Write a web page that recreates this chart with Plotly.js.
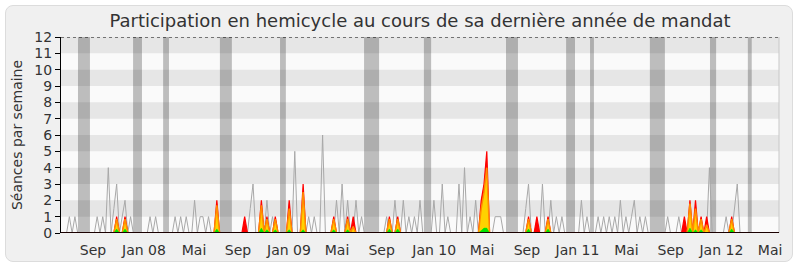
<!DOCTYPE html>
<html><head><meta charset="utf-8">
<script src="https://cdn.plot.ly/plotly-3.0.1.min.js"></script>
<style>
html,body{margin:0;padding:0;background:#ffffff;}
#panel{position:absolute;left:5px;top:5px;background:#f0f0f0;border:1px solid #dcdcdc;border-radius:8px;box-sizing:border-box;width:788px;height:257px;}
#chart{position:absolute;left:0;top:0;width:800px;height:267px;}
</style></head>
<body><div id="panel"></div><div id="chart"></div>
<script>
// Weekly values, week 0 .. 258 (June 2007 -> May 2012)
const mediane = [
0,0,0,1,0,1,0,0,0,0,
0,0,0,1,0,1,0,4,0,1.5,
3,0,1,2,0,1,0,0,0,0,
0,0,1,0,1,0,0,0,0,0,
0,1,0,1,0,1,0,0,2,0,
1,1,0,1,0,0,1,0,0,0,
0,0,0,0,0,0,0,0,1.5,3,
0,0,0,0,2,0,1,0,0,0,
0,0,0,0,5,0,0,0,0,1,
0,1,0,0,6,0,0,0,0,2,
0,3,0,2,0,0,2,0,1,0,
0,0,0,0,0,0,0,1,0,0,
2,0,0,2,0,1,0,1,0,2,
0,0,0,0,2,0,0,3,0,1,
0,0,0,3,0,4,0,1,0,2,
0,0,0,0,0,0,1,1,1,0,
0,0,0,0,0,0,0,1.5,3,0,
0,0,0,3,0,0,2,0,1,0,
1,0,0,0,0,0,0,2,0,1,
0,0,0,1,0,1,0,1,0,1,
0,2,0,1,0,1,2,0,1,0,
1,0,0,0,0,0,0,0,1,0,
0,0,1,0,0,0,0,0,0,0,
0,0,0,4,0,0,0,0,0,1,
0,0,1.5,3,0,0,0,0,0,0,
0,0,0,0,0,0,0,0,0
];
const presences = [
0,0,0,0,0,0,0,0,0,0,
0,0,0,0,0,0,0,0,0,0,
1,0,0,1,0,0,0,0,0,0,
0,0,0,0,0,0,0,0,0,0,
0,0,0,0,0,0,0,0,0,0,
0,0,0,0,0,0,2,0,0,0,
0,0,0,0,0,0,1,0,0,0,
0,0,2,0,1,0,0,1,0,0,
0,0,2,0,0,0,0,3,0,0,
0,0,0,0,0,0,0,0,1,0,
0,0,0,1,0,1,0,0,0,0,
0,0,0,0,0,0,0,0,1,0,
0,1,0,0,0,0,0,0,0,0,
0,0,0,0,0,0,0,0,0,0,
0,0,0,0,0,0,0,0,0,0,
0,2,3,5,0,0,0,0,0,0,
0,0,0,0,0,0,0,0,1,0,
0,1,0,0,0,1,0,0,0,0,
0,0,0,0,0,0,0,0,0,0,
0,0,0,0,0,0,0,0,0,0,
0,0,0,0,0,0,0,0,0,0,
0,0,0,0,0,0,0,0,0,0,
0,0,0,0,1,0,2,0,2,0,
1,0,1,0,0,0,0,0,0,0,
0,1,0,0,0,0,0,0,0,0,
0,0,0,0,0,0,0,0,0
];
const participations = [
0,0,0,0,0,0,0,0,0,0,
0,0,0,0,0,0,0,0,0,0,
0.85,0,0,0.85,0,0,0,0,0,0,
0,0,0,0,0,0,0,0,0,0,
0,0,0,0,0,0,0,0,0,0,
0,0,0,0,0,0,1.7,0,0,0,
0,0,0,0,0,0,0,0,0,0,
0,0,1.7,0,0.85,0,0,0.85,0,0,
0,0,1.5,0,0,0,0,2.5,0,0,
0,0,0,0,0,0,0,0,0.85,0,
0,0,0,0.85,0,0.4,0,0,0,0,
0,0,0,0,0,0,0,0,0.85,0,
0,0.85,0,0,0,0,0,0,0,0,
0,0,0,0,0,0,0,0,0,0,
0,0,0,0,0,0,0,0,0,0,
0,1.5,2.5,4,0,0,0,0,0,0,
0,0,0,0,0,0,0,0,0.85,0,
0,0,0,0,0,0.85,0,0,0,0,
0,0,0,0,0,0,0,0,0,0,
0,0,0,0,0,0,0,0,0,0,
0,0,0,0,0,0,0,0,0,0,
0,0,0,0,0,0,0,0,0,0,
0,0,0,0,0,0,1.8,0,1.5,0,
0.85,0,0.5,0,0,0,0,0,0,0,
0,0.85,0,0,0,0,0,0,0,0,
0,0,0,0,0,0,0,0,0
];
const interventions = [
0,0,0,0,0,0,0,0,0,0,
0,0,0,0,0,0,0,0,0,0,
0.25,0,0,0.25,0,0,0,0,0,0,
0,0,0,0,0,0,0,0,0,0,
0,0,0,0,0,0,0,0,0,0,
0,0,0,0,0,0,0.25,0,0,0,
0,0,0,0,0,0,0,0,0,0,
0,0,0.3,0,0.2,0,0,0.2,0,0,
0,0,0.2,0,0,0,0,0.2,0,0,
0,0,0,0,0,0,0,0,0.2,0,
0,0,0,0.2,0,0,0,0,0,0,
0,0,0,0,0,0,0,0,0.25,0,
0,0.25,0,0,0,0,0,0,0,0,
0,0,0,0,0,0,0,0,0,0,
0,0,0,0,0,0,0,0,0,0,
0,0.15,0.3,0.3,0,0,0,0,0,0,
0,0,0,0,0,0,0,0,0.25,0,
0,0,0,0,0,0.25,0,0,0,0,
0,0,0,0,0,0,0,0,0,0,
0,0,0,0,0,0,0,0,0,0,
0,0,0,0,0,0,0,0,0,0,
0,0,0,0,0,0,0,0,0,0,
0,0,0,0,0,0,0.3,0,0.2,0,
0.2,0,0,0,0,0,0,0,0,0,
0,0.25,0,0,0,0,0,0,0,0,
0,0,0,0,0,0,0,0,0
];
// Vacation periods (in weeks)
const vacStart = [6.1, 25.9, 36.7, 57.1, 78.7, 108.9, 130.4, 159.9, 181.5, 190.1, 211.6, 233.2, 246.8];
const vacEnd   = [10.4, 29.1, 38.8, 61.4, 80.8, 114.3, 133.0, 164.2, 184.7, 191.5, 217.0, 235.4, 248.2];
// Month labels
const tickWeeks = [11.5, 29.8, 47.8, 63.6, 81.9, 99.2, 115.2, 134.1, 151.3, 167.4, 185.6, 203.2, 219.1, 237.3, 254.8];
const tickLabels = ['Sep','Jan 08','Mai','Sep','Jan 09','Mai','Sep','Jan 10','Mai','Sep','Jan 11','Mai','Sep','Jan 12','Mai'];
const bandStarts = [1,3,5,7,9,11];

const weeks = mediane.map((_, i) => i);
const FONT = 'DejaVu Sans, Verdana, sans-serif';

const shapes = [];
bandStarts.forEach(b => shapes.push({type:'rect', xref:'paper', x0:0, x1:1, yref:'y', y0:b, y1:b+1,
  fillcolor:'#e6e6e6', line:{width:0}, layer:'below'}));
vacStart.forEach((s, k) => shapes.push({type:'rect', xref:'x', x0:s, x1:vacEnd[k], yref:'paper', y0:0, y1:1,
  fillcolor:'rgba(0,0,0,0.245)', line:{width:0}, layer:'below'}));
shapes.push({type:'line', xref:'paper', x0:0, x1:1, yref:'y', y0:12, y1:12, line:{color:'#000', width:1, dash:'dot'}});
shapes.push({type:'line', xref:'paper', x0:1, x1:1, yref:'paper', y0:0, y1:1, line:{color:'#c8c8c8', width:1}});
shapes.push({type:'line', xref:'paper', x0:0, x1:1, yref:'y', y0:0, y1:0, line:{color:'#1a0000', width:2}, layer:'above'});

const traces = [
  {x:weeks, y:mediane, type:'scatter', mode:'lines', line:{color:'#a8a8a8', width:1}, hoverinfo:'skip'},
  {x:weeks, y:presences, type:'scatter', mode:'lines', fill:'tozeroy', fillcolor:'#ff0000', line:{color:'#ff0000', width:1.2}},
  {x:weeks, y:participations, type:'scatter', mode:'lines', fill:'tozeroy', fillcolor:'#ffd200', line:{color:'#ff8c00', width:1.5}},
  {x:weeks, y:interventions, type:'scatter', mode:'lines', fill:'tozeroy', fillcolor:'#00e600', line:{color:'#00e600', width:0.5}}
];

const layout = {
  width:800, height:267,
  margin:{l:61, r:21, t:37, b:34, pad:0},
  paper_bgcolor:'rgba(0,0,0,0)', plot_bgcolor:'#fafafa',
  showlegend:false,
  font:{family:FONT, color:'#333333', size:14},
  title:{text:'Participation en hemicycle au cours de sa dernière année de mandat',
    font:{family:FONT, size:18, color:'#333333'}, x:0.5, xref:'paper', xanchor:'center', y:0.922, yanchor:'middle', yref:'container'},
  xaxis:{range:[0,258], tickvals:tickWeeks, ticktext:tickLabels, showgrid:false, zeroline:false,
    showline:false, ticks:'outside', ticklen:4, tickcolor:'rgba(0,0,0,0)',
    tickfont:{family:FONT, size:14, color:'#333333'}},
  yaxis:{range:[0,12], dtick:1, tick0:0, showgrid:false, zeroline:false, showline:true, linecolor:'#000000', linewidth:1,
    ticks:'outside', ticklen:5, tickcolor:'#000000', tickfont:{family:FONT, size:14, color:'#333333'},
    title:{text:'Séances par semaine', font:{family:FONT, size:14, color:'#333333'}, standoff:8}},
  shapes:shapes
};
Plotly.newPlot('chart', traces, layout, {staticPlot:true, displayModeBar:false});
</script></body></html>
